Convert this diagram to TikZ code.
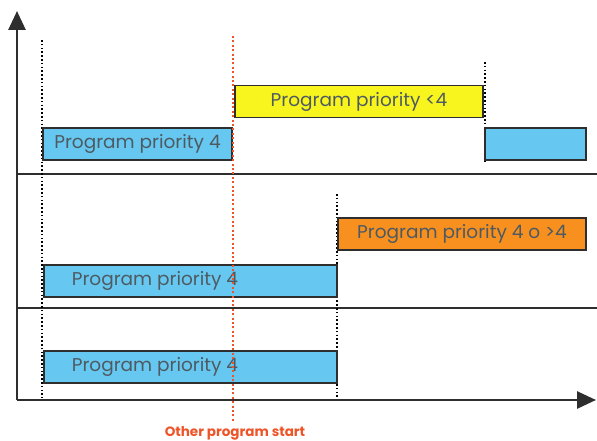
\documentclass[tikz,border=0pt]{standalone}
\usepackage{fontspec}
\setmainfont{Poppins}
\usetikzlibrary{arrows.meta}
\definecolor{boxblue}{HTML}{66C8F0}
\definecolor{boxyellow}{HTML}{F8F51E}
\definecolor{boxorange}{HTML}{F7901E}
\definecolor{txtgray}{HTML}{4E5A62}
\definecolor{axisgray}{HTML}{2E2E2E}
\definecolor{startred}{HTML}{EE5428}
\tikzset{
  axisline/.style={draw=axisgray, line width=2.8pt},
  sepline/.style={draw=axisgray, line width=2.4pt},
  bar/.style={draw=axisgray, line width=1.6pt, rectangle, inner sep=0pt, minimum height=32pt, text=txtgray, font=\fontsize{18.5}{20}\selectfont},
  bluebar/.style={bar, fill=boxblue},
  yellowbar/.style={bar, fill=boxyellow},
  orangebar/.style={bar, fill=boxorange},
  tdot/.style={draw=black, line width=2.2pt, dash pattern=on 1.6pt off 2.2pt},
  reddot/.style={draw=startred, line width=2.4pt, dash pattern=on 2pt off 2.4pt},
}
\begin{document}
\begin{tikzpicture}[x=1pt,y=-1pt]
\useasboundingbox (0,0) rectangle (597,441);
% axes
\coordinate (o) at (17,400);
\coordinate (ytop) at (17,11);
\coordinate (xend) at (596,400);
\draw[axisline, -{Triangle[length=19pt,width=17pt]}] (o) -- (ytop);
\draw[axisline, -{Triangle[length=19pt,width=17pt]}] (o) -- (xend);
% separators
\coordinate (s1a) at (17,174); \coordinate (s1b) at (597,174);
\coordinate (s2a) at (17,308); \coordinate (s2b) at (597,308);
\draw[sepline] (s1a) -- (s1b);
\draw[sepline] (s2a) -- (s2b);
% dotted verticals
\coordinate (d1a) at (42,40);  \coordinate (d1b) at (42,398);
\coordinate (d2a) at (485,62); \coordinate (d2b) at (485,162);
\coordinate (d3a) at (337,194); \coordinate (d3b) at (337,398);
\draw[tdot] (d1a) -- (d1b);
\draw[tdot] (d2a) -- (d2b);
\draw[tdot] (d3a) -- (d3b);
% bars
\node[bluebar, minimum width=189pt] (b1) at (137.5,144) {Program priority 4};
\node[yellowbar, minimum width=248pt] (y1) at (359,101.5) {Program priority <4};
\node[bluebar, minimum width=101pt] (b2) at (535.5,144) {};
\node[orangebar, minimum width=248pt] (o1) at (462,234) {Program priority 4 o >4};
\node[bluebar, anchor=west] (b3) at (43,281) {\makebox[293pt][l]{\hspace{28pt}Program priority 4}};
\node[bluebar, anchor=west] (b4) at (43,367) {\makebox[293pt][l]{\hspace{28pt}Program priority 4}};
% other program start
\coordinate (ra) at (233,36); \coordinate (rb) at (233,423);
\draw[reddot] (ra) -- (rb);
\node[text=startred, font=\fontsize{13.5}{15}\selectfont\bfseries, anchor=base, inner sep=0pt] (lbl) at (235,436) {Other program start};
\end{tikzpicture}
\end{document}
